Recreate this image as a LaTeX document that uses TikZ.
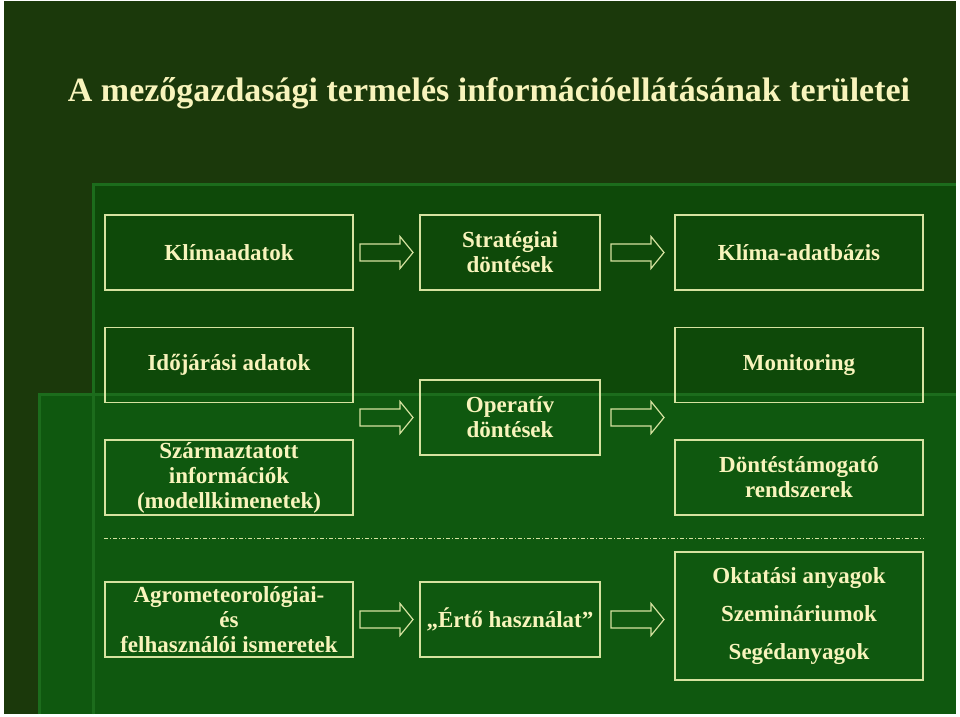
\documentclass[tikz,border=0pt]{standalone}
\usepackage{fontspec}
\setmainfont{Liberation Serif}
\usetikzlibrary{calc}

\definecolor{slidebg}{RGB}{27,57,11}
\definecolor{panelone}{RGB}{14,73,9}
\definecolor{paneltwo}{RGB}{15,88,15}
\definecolor{paneledge}{RGB}{28,108,28}
\definecolor{creamtext}{RGB}{248,244,188}
\definecolor{boxline}{RGB}{214,226,160}

\begin{document}
\begin{tikzpicture}[x=1pt, y=-1pt,
    infobox/.style={draw=boxline, line width=1.4pt, align=center, text=creamtext, inner sep=0pt,
      minimum height=75pt, font=\bfseries\fontsize{23}{25}\selectfont},
    widebox/.style={infobox, minimum width=248pt},
    midbox/.style={infobox, minimum width=180pt},
    sepline/.style={draw=boxline, line width=1pt, dash pattern=on 4pt off 2pt on 1pt off 2pt},
    fatarrow/.pic={
      \draw[boxline, line width=1.2pt, line join=miter] (-26.5,-8.5) -- (13.5,-8.5) -- (13.5,-16)
        -- (26.5,0) -- (13.5,16) -- (13.5,8.5) -- (-26.5,8.5) -- cycle;
    }
  ]
  % slide background and the two panels
  \fill[white] (0,0) rectangle (960,716);
  \fill[slidebg] (4,1) rectangle (956,714);
  \fill[panelone] (92,183) rectangle (956,714);
  \fill[paneltwo] (38,393) rectangle (956,714);
  \draw[paneledge, line width=3pt] (93.5,714) -- (93.5,184.5) -- (956,184.5);
  \draw[paneledge, line width=3pt] (39.5,714) -- (39.5,394.5) -- (956,394.5);
  \draw[paneledge, line width=2pt] (93.5,714) -- (93.5,394);

  \node[anchor=base, text=creamtext, font=\bfseries\fontsize{34}{40}\selectfont] (title) at (489,101)
    {A mezőgazdasági termelés információellátásának területei};

  % row 1
  \node[widebox] (klimaadat) at (229,252.5) {Klímaadatok};
  \node[midbox] (strateg) at (510,252.5) {Stratégiai\\döntések};
  \node[widebox] (klimadb) at (799,252.5) {Klíma-adatbázis};
  % row 2
  \node[widebox] (idojaras) at (229,365) {Időjárási adatok};
  \node[widebox] (monitor) at (799,365) {Monitoring};
  \node[midbox] (operativ) at (510,417.5) {Operatív\\döntések};
  \node[widebox] (szarm) at (229,477.5) {Származtatott\\információk\\(modellkimenetek)};
  \node[widebox] (dontes) at (799,477.5) {Döntéstámogató\\rendszerek};
  % row 3
  \node[widebox] (agro) at (229,619.5) {Agrometeorológiai-\\és\\felhasználói ismeretek};
  \node[midbox] (erto) at (510,619.5) {„Értő használat”};
  \node[widebox, minimum height=128pt] (oktatas) at (799,616)
    {Oktatási anyagok\\[13pt]Szemináriumok\\[13pt]Segédanyagok};

  \draw[sepline] ($(szarm.south west)+(0,23)$) -- ($(dontes.south east)+(0,23)$);

  % block arrows
  \pic at ($(klimaadat.east)!0.5!(strateg.west)$) {fatarrow};
  \pic at ($(strateg.east)!0.5!(klimadb.west)$) {fatarrow};
  \pic at ($(idojaras.east |- operativ.west)!0.5!(operativ.west)$) {fatarrow};
  \pic at ($(operativ.east)!0.5!(monitor.west |- operativ.east)$) {fatarrow};
  \pic at ($(agro.east)!0.5!(erto.west)$) {fatarrow};
  \pic at ($(erto.east)!0.5!(oktatas.west |- erto.east)$) {fatarrow};
\end{tikzpicture}
\end{document}
